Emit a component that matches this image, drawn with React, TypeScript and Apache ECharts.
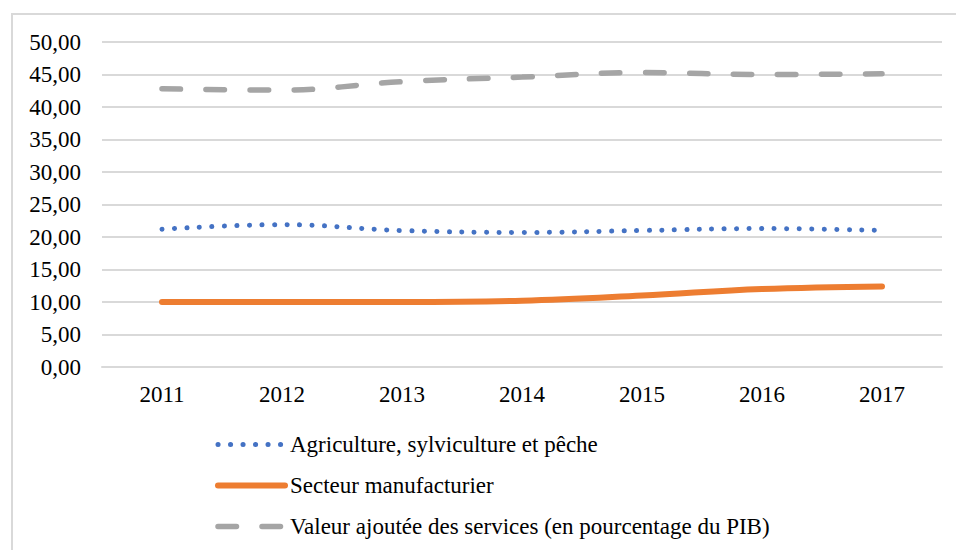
import React, { useEffect, useRef } from "react";
import * as echarts from "echarts";

const years = ["2011", "2012", "2013", "2014", "2015", "2016", "2017"];
const agriculture = [21.2, 21.9, 21.0, 20.7, 21.0, 21.3, 21.0];
const manufacturing = [10.0, 10.0, 10.0, 10.2, 11.0, 12.0, 12.4];
const services = [42.8, 42.6, 43.9, 44.6, 45.3, 45.0, 45.1];
const seriesNames = [
  "Agriculture, sylviculture et pêche",
  "Secteur manufacturier",
  "Valeur ajoutée des services (en pourcentage du PIB)",
];

const FONT = "'Liberation Serif', 'Times New Roman', serif";

export default function App() {
  const ref = useRef<HTMLDivElement>(null);
  useEffect(() => {
    if (!ref.current) return;
    const chart = echarts.init(ref.current, null, { renderer: "svg" });
    const dotStyle = { color: "#4472C4", width: 5, type: [0.1, 12.4], cap: "round" };
    const solidStyle = { color: "#ED7D31", width: 6, type: "solid", cap: "round" };
    const dashStyle = { color: "#A5A5A5", width: 5.5, type: [18.5, 25.5], cap: "round" };
    const hiddenSymbol = { opacity: 0, color: "transparent", borderWidth: 0 };
    chart.setOption({
      animation: false,
      backgroundColor: "#ffffff",
      graphic: [
        {
          type: "rect",
          shape: { x: 12, y: 14, width: 1000, height: 600 },
          style: { fill: "none", stroke: "#d9d9d9", lineWidth: 2 },
          z: -1,
        },
      ],
      grid: { left: 102, right: 14, top: 42, bottom: 183, containLabel: false },
      legend: {
        orient: "vertical",
        left: 210,
        top: 428,
        padding: 5,
        itemWidth: 67,
        itemHeight: 23,
        itemGap: 18,
        textStyle: { fontFamily: FONT, fontSize: 23, color: "#000" },
        data: [
          { name: seriesNames[0], lineStyle: dotStyle, itemStyle: hiddenSymbol },
          { name: seriesNames[1], lineStyle: solidStyle, itemStyle: hiddenSymbol },
          { name: seriesNames[2], lineStyle: dashStyle, itemStyle: hiddenSymbol },
        ],
      },
      xAxis: {
        type: "category",
        data: years,
        boundaryGap: true,
        axisLine: { show: true, lineStyle: { color: "#d9d9d9", width: 2 } },
        axisTick: { show: false },
        axisLabel: { fontFamily: FONT, fontSize: 23, color: "#000", margin: 16 },
      },
      yAxis: {
        type: "value",
        min: 0,
        max: 50,
        interval: 5,
        axisLine: { show: false },
        axisTick: { show: false },
        splitLine: { lineStyle: { color: "#d9d9d9", width: 2 } },
        axisLabel: {
          fontFamily: FONT,
          fontSize: 23,
          color: "#000",
          margin: 21,
          formatter: (v: number) => v.toFixed(2).replace(".", ","),
        },
      },
      series: [
        {
          name: seriesNames[0],
          type: "line",
          data: agriculture,
          smooth: 0.4,
          symbol: "none",
          showSymbol: false,
          lineStyle: dotStyle,
          itemStyle: { color: "#4472C4" },
        },
        {
          name: seriesNames[1],
          type: "line",
          data: manufacturing,
          smooth: 0.4,
          symbol: "none",
          showSymbol: false,
          lineStyle: solidStyle,
          itemStyle: { color: "#ED7D31" },
        },
        {
          name: seriesNames[2],
          type: "line",
          data: services,
          smooth: 0.4,
          symbol: "none",
          showSymbol: false,
          lineStyle: dashStyle,
          itemStyle: { color: "#A5A5A5" },
        },
      ],
    });
    return () => chart.dispose();
  }, []);
  return (
    <div
      ref={ref}
      style={{ position: "fixed", left: 0, top: 0, width: 956, height: 550, background: "#fff" }}
    />
  );
}
